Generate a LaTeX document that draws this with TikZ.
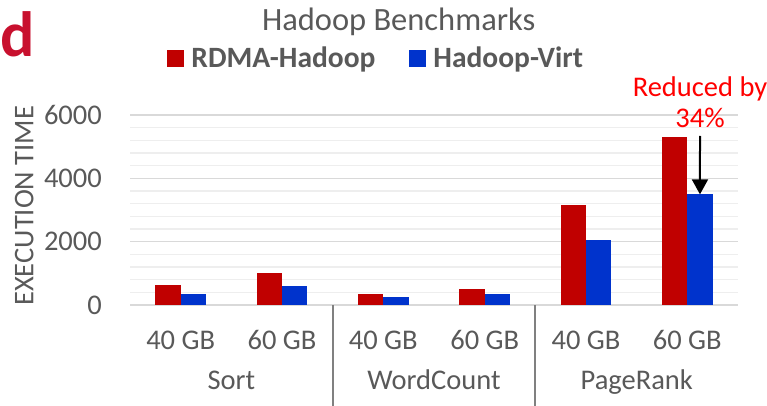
\documentclass[tikz,border=0pt]{standalone}
\usepackage{fontspec}
\setmainfont{Carlito}
\usetikzlibrary{arrows.meta,positioning}
\definecolor{rdma}{RGB}{192,0,0}
\definecolor{virt}{RGB}{0,51,204}
\definecolor{txt}{RGB}{89,89,89}
\definecolor{majgrid}{RGB}{217,217,217}
\definecolor{mingrid}{RGB}{238,238,238}
\definecolor{sepgray}{RGB}{128,128,128}
\definecolor{note}{RGB}{255,0,0}
\definecolor{panel}{RGB}{200,16,46}
\begin{document}
\begin{tikzpicture}[x=1pt,y=-1pt,>={Triangle[length=15pt,width=16pt]},font=\fontsize{28.5}{31}\selectfont,text=txt]
\tikzstyle{every node}=[inner sep=0pt]
\tikzstyle{key}=[minimum size=17pt]
\tikzstyle{keytext}=[font=\fontsize{29.5}{33}\selectfont\bfseries]
\tikzstyle{sep}=[sepgray,line width=2pt]
\useasboundingbox (0,0) rectangle (767,406);
\foreach \v in {400,800,...,6000}
  \draw[mingrid,line width=1.5pt] (130,{305-\v*0.0316667}) -- (738,{305-\v*0.0316667});
\foreach \v in {0,2000,4000,6000}{
  \draw[majgrid,line width=1.5pt] (130,{305-\v*0.0316667}) -- (738,{305-\v*0.0316667});
  \node[anchor=east] (tick\v) at (102,{305-\v*0.0316667}) {\v};
}
\foreach \c/\r/\b/\s [count=\i] in {180.7/630/350/40,282/1010/590/60,383.3/350/240/40,484.7/520/350/60,586/3160/2065/40,687.3/5295/3495/60}{
  \fill[rdma] ({\c-25.3},305) rectangle (\c,{305-\r*0.0316667});
  \fill[virt] (\c,305) rectangle ({\c+25.3},{305-\b*0.0316667});
  \coordinate (top\i) at ({\c+12.65},{305-\b*0.0316667});
  \node[anchor=base] (size\i) at (\c,349.3) {\s{} GB};
}
\coordinate (sepA) at (332.7,305);
\coordinate (sepB) at (535.3,305);
\draw[sep] (sepA) -- ++(0,101);
\draw[sep] (sepB) -- ++(0,101);
\node[anchor=base] (sort) at (231.3,389.3) {Sort};
\node[anchor=base] (wordcount) at (434,389.3) {WordCount};
\node[anchor=base] (pagerank) at (636.7,389.3) {PageRank};
\node[rotate=90,anchor=base] (ylabel) at (33.3,205.8) {EXECUTION TIME};
\node[anchor=base] (title) at (398.7,31) {\fontsize{32.5}{36}\selectfont Hadoop Benchmarks};
\node[key,fill=rdma] (krdma) at (175.5,59) {};
\node[keytext,anchor=west,right=7pt of krdma.east] (trdma) {RDMA-Hadoop};
\node[key,fill=virt] (kvirt) at (417.5,59) {};
\node[keytext,anchor=west,right=7pt of kvirt.east] (tvirt) {Hadoop-Virt};
\node[text=note,align=center,anchor=south] (reduced) at (700,128) {Reduced by\\34\%};
\draw[->,line width=2pt] ([yshift=-8pt]reduced.south) -- (top6);
\node[anchor=base west,text=panel,font=\fontsize{64}{70}\selectfont\bfseries] (panel) at (0.5,57) {d};
\end{tikzpicture}
\end{document}
